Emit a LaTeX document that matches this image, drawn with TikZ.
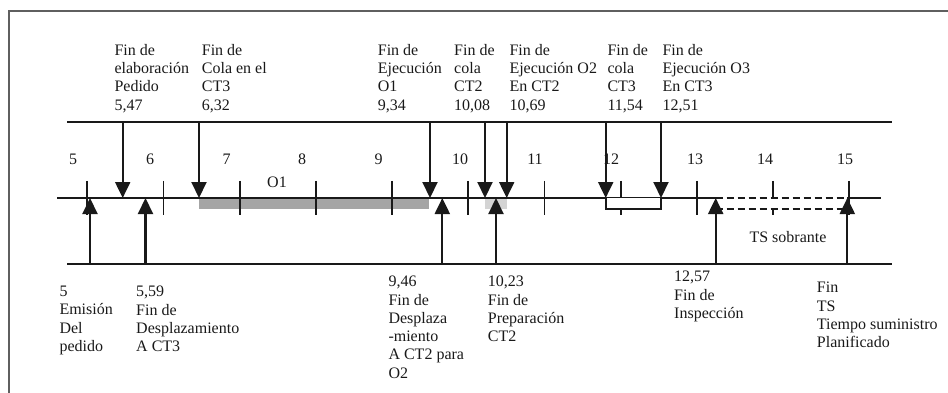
\documentclass[tikz,border=0pt]{standalone}
\usepackage{fontspec}
\setmainfont{Liberation Serif}
\usetikzlibrary{positioning,arrows.meta}
\definecolor{InkBlack}{RGB}{25,25,25}
\definecolor{BarGray}{RGB}{165,165,165}
\definecolor{PrepGray}{RGB}{212,212,212}
\definecolor{FrameGray}{RGB}{95,95,95}
\tikzset{
	rail/.style={draw=InkBlack,line width=2.1pt},
	tickmark/.style={draw=InkBlack,line width=1.9pt},
	event/.style={draw=InkBlack,line width=2.1pt,-{Triangle[width=15pt,length=16pt]}},
	slack/.style={draw=InkBlack,line width=1.8pt,dash pattern=on 7pt off 4pt},
	lbl/.style={font=\fontsize{16}{18.3}\selectfont,align=left,anchor=north west,inner sep=0pt,text=InkBlack},
	num/.style={font=\fontsize{16}{18.3}\selectfont,inner sep=0pt,text=InkBlack},
}
\begin{document}
\begin{tikzpicture}[x=1pt,y=-1pt]
	\useasboundingbox (0,0) rectangle (948,393);
	% frame
	\coordinate (frB) at (9,393);
	\coordinate (frC) at (9,11);
	\coordinate (frR) at (948,11);
	\draw[FrameGray,line width=1.4pt] (frB)--(frC)--(frR);
	% bars under the axis
	\fill[BarGray] (199,198) rectangle (429,208.5);
	\fill[PrepGray] (485,198) rectangle (506.7,208.5);
	% rails
	\coordinate (topL) at (67,122);
	\coordinate (topR) at (892,122);
	\coordinate (botL) at (67,264);
	\coordinate (botR) at (892,264);
	\coordinate (axL) at (57,198);
	\coordinate (axM) at (715.7,198);
	\coordinate (axN) at (847.3,198);
	\coordinate (axR) at (881,198);
	\draw[rail] (topL)--(topR);
	\draw[rail] (botL)--(botR);
	\draw[rail] (axL)--(axM);
	\draw[rail] (axN)--(axR);
	% ticks and hour labels
	\foreach \t/\lx in {5/73,6/150,7/226.5,8/302,9/378.5,10/460,11/535,12/611,13/695,14/765,15/845}{
		\coordinate (tk\t a) at ({87.3+(\t-5)*76.2},181);
		\coordinate (tk\t b) at ({87.3+(\t-5)*76.2},215);
		\draw[tickmark] (tk\t a)--(tk\t b);
		\node[num] (hr\t) at (\lx,159.5) {\t};
	}
	% queue of CT3 and spare time
	\coordinate (q3a) at (605.7,198);
	\coordinate (q3b) at (605.7,209);
	\coordinate (q3c) at (661,209);
	\coordinate (q3d) at (661,198);
	\fill[white] (q3a) rectangle (q3c);
	\draw[tickmark] (q3a)--(q3b)--(q3c)--(q3d);
	\coordinate (tsa) at (715.7,209);
	\coordinate (tsb) at (847.3,209);
	\fill[white] (axM) rectangle (tsb);
	\draw[slack] (axM)--(axN);
	\draw[slack] (tsa)--(tsb);
	\node[num] (o1) at (277,182) {O1};
	\node[num] (tss) at (788,237) {TS sobrante};
	% events from above
	\foreach \n/\x in {1/122.7,2/199,3/430,4/485,5/506.7,6/605.7,7/661}{
		\coordinate (dn\n t) at (\x,122);
		\coordinate (dn\n b) at (\x,198);
		\draw[event] (dn\n t)--(dn\n b);
	}
	% events from below
	\foreach \n/\x in {1/90,2/145.5,3/442.3,4/496,5/715.7,6/847.3}{
		\coordinate (up\n b) at (\x,264);
		\coordinate (up\n t) at (\x,198);
		\draw[event] (up\n b)--(up\n t);
	}
	% upper texts
	\node[lbl] (tx1) at (114.3,44) {Fin de\\elaboración\\Pedido\\5,47};
	\node[lbl] (tx2) at (201.7,44) {Fin de\\Cola en el\\CT3\\6,32};
	\node[lbl] (tx3) at (377.7,44) {Fin de\\Ejecución\\O1\\9,34};
	\node[lbl] (tx4) at (454,44) {Fin de\\cola\\CT2\\10,08};
	\node[lbl] (tx5) at (509.3,44) {Fin de\\Ejecución O2\\En CT2\\10,69};
	\node[lbl] (tx6) at (607.3,44) {Fin de\\cola\\CT3\\11,54};
	\node[lbl] (tx7) at (662.3,44) {Fin de\\Ejecución O3\\En CT3\\12,51};
	% lower texts
	\node[lbl] (bx1) at (59.3,286) {5\\Emisión\\Del\\pedido};
	\node[lbl] (bx2) at (136,286) {5,59\\Fin de\\Desplazamiento\\A CT3};
	\node[lbl] (bx3) at (388.3,276) {9,46\\Fin de\\Desplaza\\-miento\\A CT2 para\\O2};
	\node[lbl] (bx4) at (487.7,276) {10,23\\Fin de\\Preparación\\CT2};
	\node[lbl] (bx5) at (674,271) {12,57\\Fin de\\Inspección};
	\node[lbl] (bx6) at (816.7,282) {Fin\\TS\\Tiempo suministro\\Planificado};
\end{tikzpicture}
\end{document}
